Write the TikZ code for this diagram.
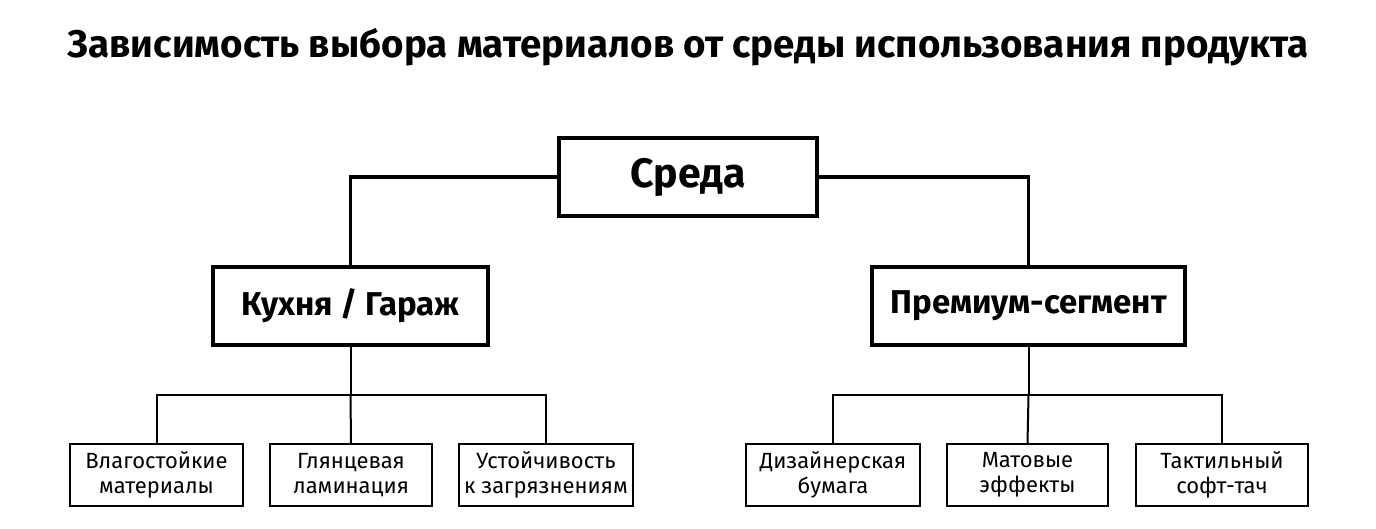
\documentclass[tikz,border=0pt]{standalone}
\usepackage{fontspec}
\setmainfont{Fira Sans}
\usepackage{tikz}
\usetikzlibrary{positioning}

\begin{document}
\begin{tikzpicture}[x=1pt, y=-1pt,
  mainbox/.style={draw, line width=4pt, minimum height=78pt, align=center,
    font=\fontsize{33}{38}\selectfont\bfseries},
  leafbox/.style={draw, line width=2pt, minimum height=62pt, align=center,
    font=\fontsize{22}{25}\selectfont},
  upline/.style={line width=3.5pt},
  lowline/.style={line width=2pt}]
\useasboundingbox (0,0) rectangle (1376,529);
% title
\node (title) at (688,47) {\fontsize{38.5}{42}\selectfont\bfseries Зависимость выбора материалов от среды использования продукта};
% top level
\node[mainbox, minimum width=258pt, font=\fontsize{41}{44}\selectfont\bfseries] (sreda) at (688,177) {Среда};
\node[mainbox, minimum width=275pt] (kitchen) at (350.5,306) {Кухня / Гараж};
\node[mainbox, minimum width=313pt] (premium) at (1028.5,306) {Премиум-сегмент};
\draw[upline] (sreda.west) -| (kitchen.north);
\draw[upline] (sreda.east) -| (premium.north);
% leaves
\node[leafbox, minimum width=173pt] (wet) at (156.5,475) {Влагостойкие\\материалы};
\node[leafbox, minimum width=162pt] (gloss) at (351,475) {Глянцевая\\ламинация};
\node[leafbox, minimum width=174pt] (dirt) at (546,475) {Устойчивость\\к загрязнениям};
\node[leafbox, minimum width=174pt] (paper) at (833,475) {Дизайнерская\\бумага};
\node[leafbox, minimum width=161pt] (matte) at (1027.5,475) {Матовые\\эффекты};
\node[leafbox, minimum width=172pt] (touch) at (1222,475) {Тактильный\\софт-тач};
\draw[lowline] (kitchen.south) -- (kitchen.south |- 0,395) coordinate (kj);
\draw[lowline] (wet.north) |- (kj) -| (dirt.north);
\draw[lowline] (kj) -- (gloss.north);
\draw[lowline] (premium.south) -- (premium.south |- 0,395) coordinate (pj);
\draw[lowline] (paper.north) |- (pj) -| (touch.north);
\draw[lowline] (pj) -- (matte.north);
\end{tikzpicture}
\end{document}
